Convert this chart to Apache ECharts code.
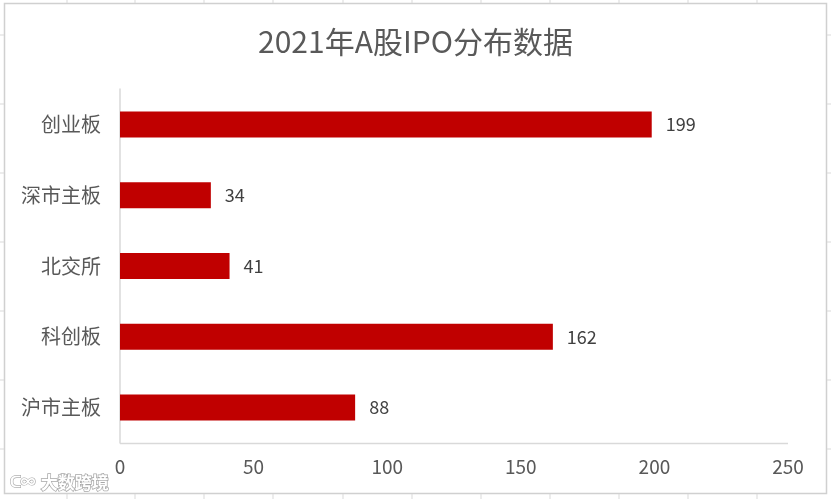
<!DOCTYPE html>
<html><head><meta charset="utf-8">
<script src="https://cdn.jsdelivr.net/npm/echarts@6/dist/echarts.min.js"></script>
<style>html,body{margin:0;padding:0;background:#fff}#c{width:831px;height:499px}</style>
</head><body><div id="c"></div>
<script>
const categories = ['沪市主板', '科创板', '北交所', '深市主板', '创业板'];
const values = [88, 162, 41, 34, 199];
const xTicks = [0, 50, 100, 150, 200, 250];
const titleText = '2021年A股IPO分布数据';
const watermark = '大数跨境';

const chart = echarts.init(document.getElementById('c'));
const font = '"Noto Sans CJK SC", "Open Sans", sans-serif';
const gridColsX = [67, 135, 204, 273, 343, 412, 481, 550, 619, 688, 757];
const bg = [];
gridColsX.forEach(x => {
  bg.push({type:'line', shape:{x1:x,y1:0,x2:x,y2:3}, style:{stroke:'#d9d9d9', lineWidth:1}, silent:true});
  bg.push({type:'line', shape:{x1:x,y1:494,x2:x,y2:499}, style:{stroke:'#d9d9d9', lineWidth:1}, silent:true});
});
[35, 104, 173, 242, 311, 380, 449].forEach(y => {
  bg.push({type:'line', shape:{x1:0,y1:y,x2:4,y2:y}, style:{stroke:'#d9d9d9', lineWidth:1}, silent:true});
  bg.push({type:'line', shape:{x1:827,y1:y,x2:831,y2:y}, style:{stroke:'#d9d9d9', lineWidth:1}, silent:true});
});
bg.push({type:'rect', shape:{x:4.5,y:3.5,width:822,height:490}, style:{fill:'none', stroke:'#d0d0d0', lineWidth:1.5}, silent:true, z:-1});
bg.push({type:'text', left:40, top:473, style:{text:watermark, font:'bold 17px ' + font, fill:'#ffffff', stroke:'#a8a8a8', lineWidth:1.5}, silent:true});
bg.push({type:'text', left:9, top:473, style:{text:'ᑕ∞', font:'bold 15px ' + font, fill:'#ffffff', stroke:'#a8a8a8', lineWidth:1.2}, silent:true});

chart.setOption({
  backgroundColor: '#ffffff',
  animation: false,
  title: {
    text: titleText, left: 'center', top: 22,
    textStyle: {color:'#595959', fontSize:30, fontWeight:'normal', fontFamily: font}
  },
  grid: {left:120, right:43, top:89, bottom:56, containLabel:false},
  xAxis: {
    type:'value', min:0, max:250, interval:50,
    axisLine:{show:false}, axisTick:{show:false}, splitLine:{show:false},
    axisLabel:{color:'#595959', fontSize:19, fontFamily:font, margin:14,
      formatter: v => xTicks.includes(v) ? String(v) : ''}
  },
  yAxis: {
    type:'category', data:categories,
    axisLine:{show:true, lineStyle:{color:'#d9d9d9', width:1.5}},
    axisTick:{show:false},
    axisLabel:{color:'#595959', fontSize:20, fontFamily:font, margin:19}
  },
  graphic: bg.concat([
    {type:'line', shape:{x1:120,y1:443.5,x2:788,y2:443.5}, style:{stroke:'#d9d9d9', lineWidth:1.5}, silent:true}
  ]),
  series: [{
    type:'bar', data:values, barWidth:26,
    itemStyle:{color:'#C00000'},
    label:{show:true, position:'right', distance:14, color:'#404040', fontSize:18, fontFamily:font}
  }]
});
</script></body></html>
